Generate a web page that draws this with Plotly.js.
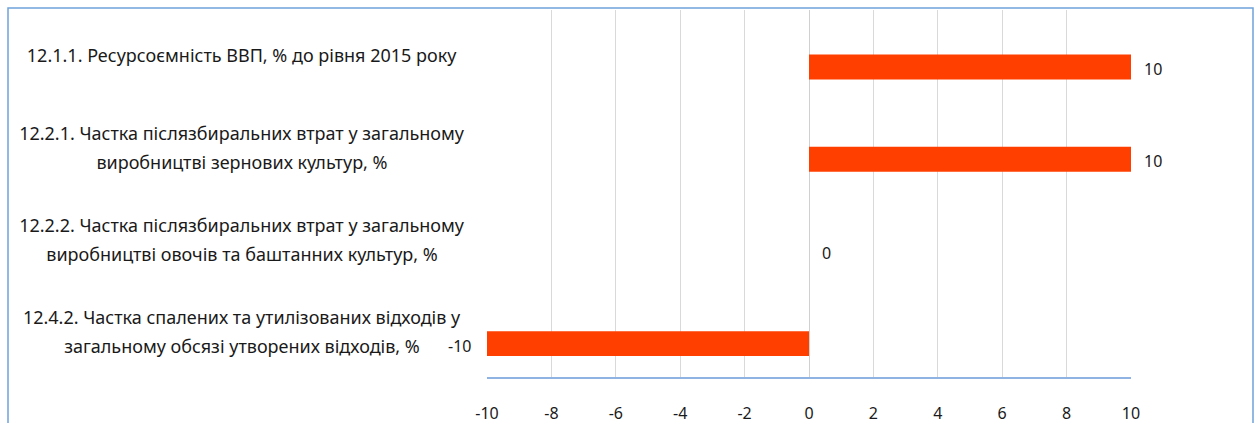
<!DOCTYPE html>
<html><head><meta charset="utf-8">
<script src="https://cdn.plot.ly/plotly-3.0.1.min.js"></script>
<style>html,body{margin:0;padding:0;background:#fff;}#chart{width:1258px;height:423px;}</style>
</head><body><div id="chart"></div>
<script>
const categories = [
  "12.1.1. Ресурсоємність ВВП, % до рівня 2015 року",
  "12.2.1. Частка післязбиральних втрат у загальному<br>виробництві зернових культур, %",
  "12.2.2. Частка післязбиральних втрат у загальному<br>виробництві овочів та баштанних культур, %",
  "12.4.2. Частка спалених та утилізованих відходів у<br>загальному обсязі утворених відходів, %"
];
const values = [10, 10, 0, -10];
const tickValues = [-10, -8, -6, -4, -2, 0, 2, 4, 6, 8, 10];

const FONT = "'Noto Sans', 'Liberation Sans', Arial, sans-serif";
const ids = categories.map((c, i) => i);

const trace = {
  type: 'bar', orientation: 'h',
  x: values, y: ids,
  width: 0.27,
  marker: {color: '#ff3f00', line: {width: 0}},
  hoverinfo: 'none'
};

const annotations = [];
categories.forEach((c, i) => {
  const lines = c.split('<br>');
  const n = lines.length;
  lines.forEach((ln, k) => {
    annotations.push({
      xref: 'paper', yref: 'y', x: 0, y: i, xanchor: 'right', yanchor: 'middle',
      xshift: -17, yshift: 12 - (k - (n - 1) / 2) * 29,
      width: 452, align: 'center',
      text: ln, showarrow: false,
      font: {family: FONT, size: 18, color: '#1a1a1a'}
    });
  });
  const v = values[i];
  annotations.push({
    xref: 'x', yref: 'y', x: v, y: i,
    xanchor: v < 0 ? 'right' : 'left', yanchor: 'middle',
    xshift: v < 0 ? -14 : 11, yshift: -2,
    text: String(v), showarrow: false,
    font: {family: FONT, size: 16, color: '#1a1a1a'}
  });
});

const layout = {
  width: 1258, height: 423,
  margin: {l: 487, r: 127, t: 10, b: 46},
  paper_bgcolor: '#fff', plot_bgcolor: '#fff',
  showlegend: false,
  xaxis: {
    range: [-10, 10], tickvals: tickValues, ticktext: tickValues.map(String),
    showgrid: true, gridcolor: '#d9d9d9', gridwidth: 1,
    zeroline: true, zerolinecolor: '#d0d0d0', zerolinewidth: 1,
    showline: true, linecolor: '#8fb4e3', linewidth: 2,
    ticks: '', ticklabelstandoff: 21,
    tickfont: {family: FONT, size: 16, color: '#1a1a1a'},
    fixedrange: true
  },
  yaxis: {
    range: [3.362, -0.618], showticklabels: false, showgrid: false, zeroline: false,
    showline: false, fixedrange: true
  },
  annotations: annotations,
  shapes: [{
    type: 'rect', xref: 'paper', yref: 'paper',
    x0: (8 - 487) / 644, x1: (1253 - 487) / 644,
    y0: -0.3, y1: (377 - 8) / 367,
    line: {color: '#6fa3dc', width: 1.5}, fillcolor: 'rgba(0,0,0,0)', layer: 'above'
  }]
};

Plotly.newPlot('chart', [trace], layout, {displayModeBar: false, staticPlot: true});
</script>
</body></html>
